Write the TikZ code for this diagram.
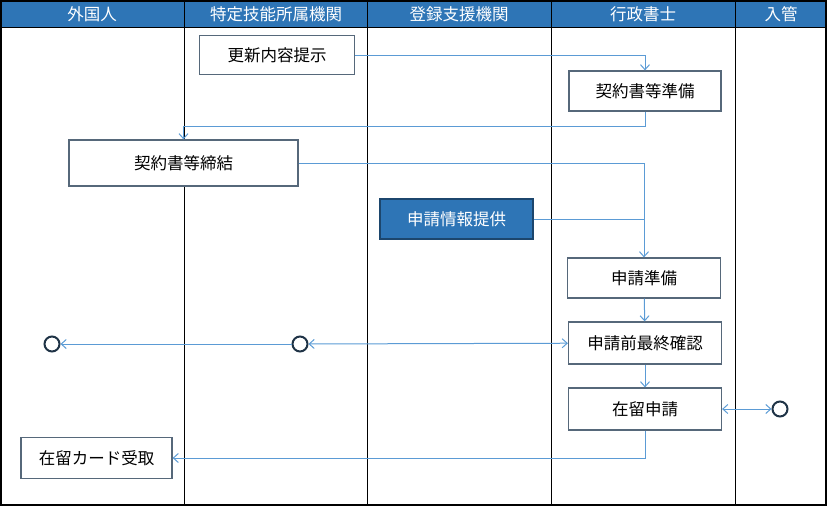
\documentclass[tikz,border=0pt]{standalone}
\usepackage{fontspec}
\setmainfont{Noto Sans CJK JP}
\usetikzlibrary{arrows.meta}
\definecolor{hdrblue}{HTML}{2E75B6}
\definecolor{flowblue}{HTML}{5B9BD5}
\definecolor{boxline}{HTML}{56687A}
\definecolor{ringline}{HTML}{1F3346}
\begin{document}
\begin{tikzpicture}[x=1pt,y=-1pt,
	>={Straight Barb[length=5pt,width=9pt]},
	every node/.style={font=\fontsize{16.5}{18}\selectfont},
	task/.style={draw=boxline, line width=1.2pt, fill=white, minimum height=40pt, inner sep=0pt},
	info/.style={task, draw=hdrblue!60!black, fill=hdrblue, text=white},
	lane/.style={text=white},
	ring/.style={circle, draw=ringline, line width=2pt, minimum size=15pt, inner sep=0pt},
	flow/.style={draw=flowblue, line width=1pt, ->}]

		\useasboundingbox (0,0) rectangle (827,506);
		\fill[hdrblue] (0,0) rectangle (826,27);
		\foreach \x in {184,367,551,735} \draw[line width=0.8pt] (\x,0)--(\x,505);
		\draw[line width=0.8pt] (0,27)--(826,27);
		\draw[line width=1.5pt] (0.75,0.75) rectangle (825.75,504.75);

		\node[lane] (foreigner) at (92,14) {外国人};
		\node[lane] (employer) at (276,14) {特定技能所属機関};
		\node[lane] (support) at (459,14) {登録支援機関};
		\node[lane] (scrivener) at (643,14) {行政書士};
		\node[lane] (bureau) at (781,14) {入管};

		\node[task, minimum width=155pt, minimum height=39pt] (renew) at (277,55) {更新内容提示};
		\node[task, minimum width=152pt] (contractprep) at (645,91) {契約書等準備};
		\node[task, minimum width=229pt, minimum height=46pt] (contract) at (183.5,163) {契約書等締結};
		\node[info, minimum width=153pt] (infoprov) at (456.5,219) {申請情報提供};
		\node[task, minimum width=153pt] (appprep) at (644,278) {申請準備};
		\node[task, minimum width=153pt, minimum height=42pt] (check) at (645,343) {申請前最終確認};
		\node[task, minimum width=153pt, minimum height=42pt] (apply) at (645,409) {在留申請};
		\node[task, minimum width=151pt, minimum height=41pt] (card) at (96.5,458) {在留カード受取};

		\node[ring] (ringbureau) at (780,409) {};
		\node[ring] (ringemployer) at (300,344) {};
		\node[ring] (ringforeigner) at (52,344) {};

		\draw[flow] (renew.east) -| (contractprep.north);
		\draw[flow] (contractprep.south) -- ++(0,15) -| (contract.north);
		\draw[flow] (contract.east) -| (appprep.north);
		\draw[flow, -] (infoprov.east) -- (infoprov.east -| appprep.north);
		\draw[flow] (appprep) -- (check);
		\draw[flow] (check) -- (apply);
		\draw[flow, <->] (ringemployer) -- (check);
		\draw[flow] (ringemployer) -- (ringforeigner);
		\draw[flow, <->] (apply) -- (ringbureau);
		\draw[flow] (apply.south) |- (card.east);

	\end{tikzpicture}
\end{document}
